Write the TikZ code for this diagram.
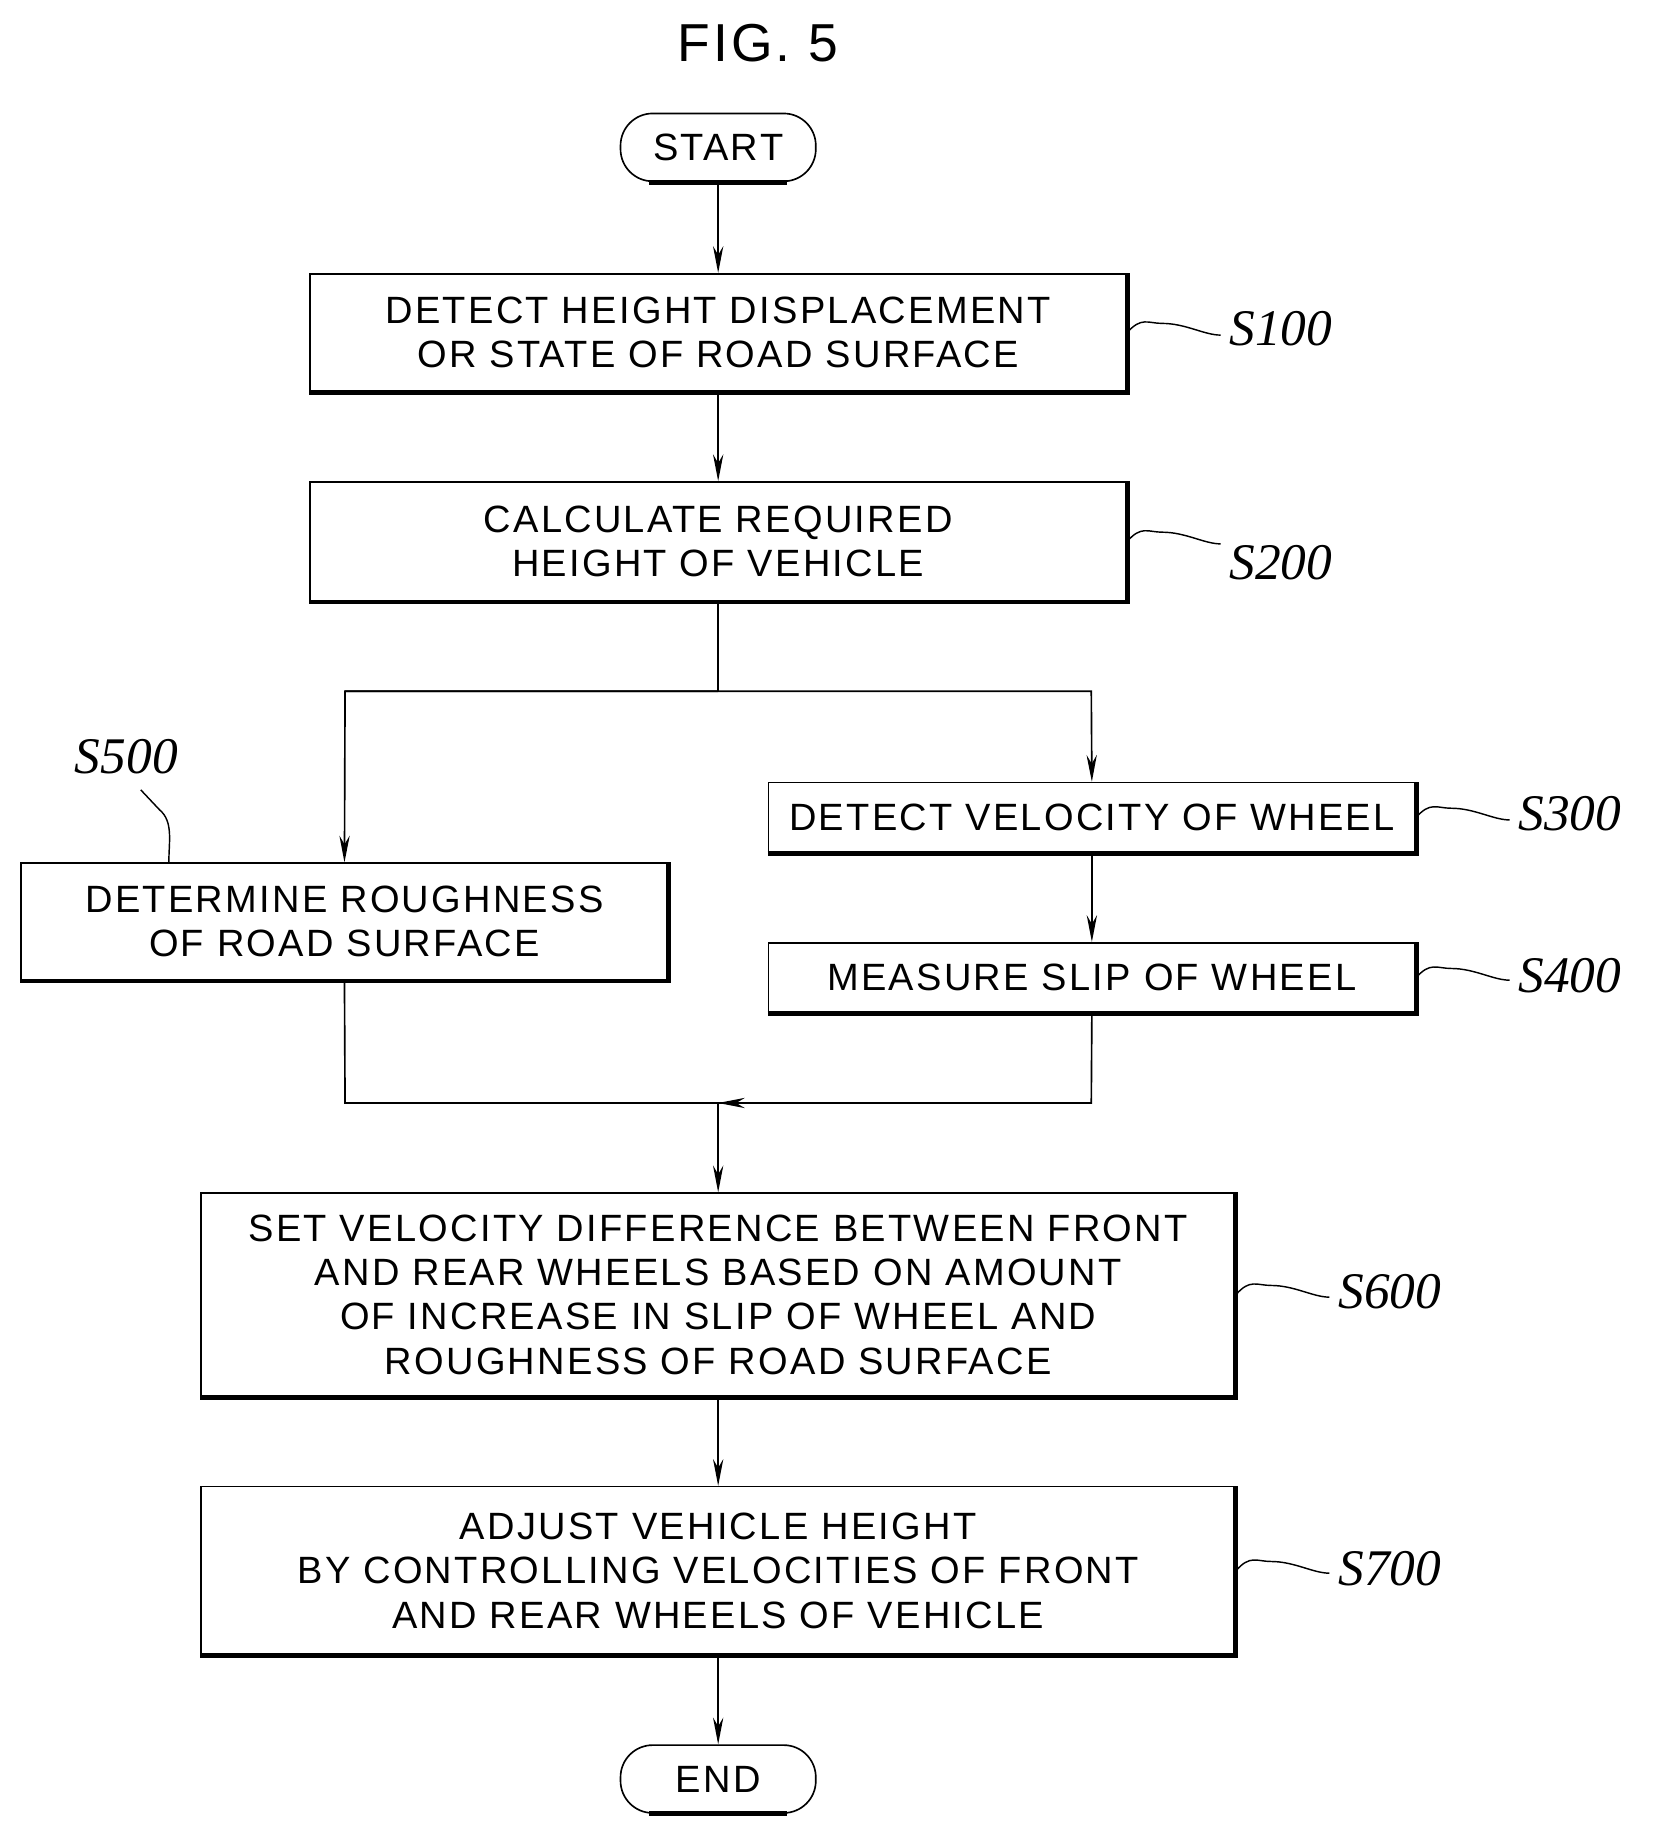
\documentclass[tikz,border=0pt]{standalone}
\usepackage{fontspec}
\setmainfont{Liberation Sans}[LetterSpace=6]
\newfontfamily\lbl{Liberation Serif}
\usetikzlibrary{arrows.meta}
\begin{document}
\begin{tikzpicture}[x=0.02cm,y=-0.02cm,
  box/.style={draw,line width=0.8pt,align=center,inner sep=0pt,font=\fontsize{18.5}{21.5}\selectfont},
  term/.style={box,rounded corners=0.55cm,minimum width=3.34cm,minimum height=1.16cm},
  arr/.style={line width=0.8pt,-{Stealth[length=13pt,width=5pt]}},
  ln/.style={line width=0.8pt},
  slbl/.style={font=\lbl\itshape\fontsize{25}{28}\selectfont,anchor=west},
  wig/.style={line width=0.7pt}]
\useasboundingbox (0,0) rectangle (1413,1568);
\node[font=\fontsize{26}{30}\selectfont] (title) at (648,37) {FIG. 5};
\node[term] (start) at (614,126) {START};
\node[box,minimum width=13.96cm,minimum height=2.02cm] (s1) at (614,284.5) {DETECT HEIGHT DISPLACEMENT\\OR STATE OF ROAD SURFACE};
\node[box,minimum width=13.96cm,minimum height=2.04cm] (s2) at (614,463) {CALCULATE REQUIRED\\HEIGHT OF VEHICLE};
\node[box,minimum width=11.06cm,minimum height=1.2cm] (s3) at (933.5,699) {DETECT VELOCITY OF WHEEL};
\node[box,minimum width=11.06cm,minimum height=1.2cm] (s4) at (933.5,836) {MEASURE SLIP OF WHEEL};
\node[box,minimum width=11.06cm,minimum height=2.0cm] (s5) at (294.5,788) {DETERMINE ROUGHNESS\\OF ROAD SURFACE};
\node[box,minimum width=17.68cm,minimum height=3.48cm] (s6) at (614,1107) {SET VELOCITY DIFFERENCE BETWEEN FRONT\\AND REAR WHEELS BASED ON AMOUNT\\OF INCREASE IN SLIP OF WHEEL AND\\ROUGHNESS OF ROAD SURFACE};
\node[box,minimum width=17.68cm,minimum height=2.88cm] (s7) at (614,1343) {ADJUST VEHICLE HEIGHT\\BY CONTROLLING VELOCITIES OF FRONT\\AND REAR WHEELS OF VEHICLE};
\node[term] (end) at (614,1521) {END};
\foreach \n in {s1,s2,s3,s4,s5,s6,s7}
  \draw[line width=2.4pt] (\n.south west)--(\n.south east)--(\n.north east);
\foreach \n in {start,end}
  \draw[line width=2.4pt] ([xshift=0.5cm]\n.south west)--([xshift=-0.5cm]\n.south east);
\coordinate (bl) at (295,591); \coordinate (br) at (933,591); \coordinate (bm) at (614,591);
\coordinate (ml) at (295,943); \coordinate (mr) at (933,943); \coordinate (mm) at (614,943);
\draw[arr] (start)--(s1);
\draw[arr] (s1)--(s2);
\draw[ln] (s2.south)--(bm);
\draw[arr] (bl)--(br)--(s3.north);
\draw[arr] (bm)--(bl)--(s5.north);
\draw[arr] (s3)--(s4);
\draw[ln] (s5.south)--(ml)--(mr)--(s4.south);
\draw[arr] (mr)--(mm);
\draw[arr] (mm)--(s6);
\draw[arr] (s6)--(s7);
\draw[arr] (s7)--(end);
\foreach \n in {s1,s2,s3,s4,s6,s7}{
  \draw[wig] (\n.east) .. controls +(12,-14) and +(-12,0) .. +(30,-8) .. controls +(20,0) and +(-14,0) .. +(80,2);
}
\node[slbl] (l1) at (1045,281) {S100};
\node[slbl] (l2) at (1045,481) {S200};
\node[slbl] (l3) at (1292,696) {S300};
\node[slbl] (l4) at (1292,834) {S400};
\node[slbl] (l6) at (1138,1104) {S600};
\node[slbl] (l7) at (1138,1341) {S700};
\node[slbl,anchor=center] (l5) at (108,647) {S500};
\draw[wig] (s5.north west) ++(127,0) .. controls +(0,-18) and +(12,10) .. +(-8,-45) .. controls +(-8,-8) .. +(-24,-62);
\end{tikzpicture}
\end{document}
